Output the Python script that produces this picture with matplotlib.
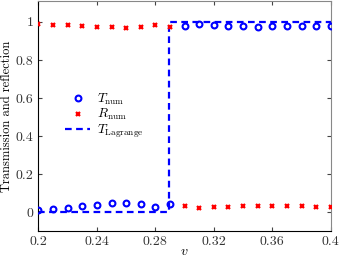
import numpy as np
import matplotlib
matplotlib.use('Agg')
import matplotlib.pyplot as plt

plt.rcParams['font.family'] = 'serif'
plt.rcParams['font.serif'] = ['cmr10', 'DejaVu Serif']
plt.rcParams['mathtext.fontset'] = 'cm'
plt.rcParams['axes.formatter.use_mathtext'] = True

# data
v = [0.20, 0.21, 0.22, 0.23, 0.24, 0.25, 0.26, 0.27, 0.28, 0.29, 0.30,
     0.31, 0.32, 0.33, 0.34, 0.35, 0.36, 0.37, 0.38, 0.39, 0.40]
T_num = [0.01, 0.015, 0.02, 0.03, 0.035, 0.045, 0.05, 0.04, 0.025, 0.04, 0.98,
         0.99, 0.985, 0.98, 0.978, 0.975, 0.978, 0.978, 0.978, 0.98, 0.98]
R_num = [0.99, 0.985, 0.983, 0.978, 0.975, 0.972, 0.97, 0.973, 0.982, 0.975, 0.03,
         0.02, 0.025, 0.028, 0.03, 0.03, 0.03, 0.03, 0.03, 0.028, 0.027]
v_lag = [0.20, 0.289, 0.289, 0.40]
T_lag = [0.0, 0.0, 1.0, 1.0]

xticks = [0.2, 0.24, 0.28, 0.32, 0.36, 0.4]
yticks = [0, 0.2, 0.4, 0.6, 0.8, 1]

fig = plt.figure(figsize=(3.4, 2.59), dpi=100)
ax = fig.add_axes([0.113, 0.108, 0.86, 0.888])

ax.plot(v, T_num, 'o', mfc='none', mec='b', mew=1.5, ms=4.2, label=r'$T_{\mathrm{num}}$', zorder=3)
ax.plot(v, R_num, 'x', color='r', mew=1.6, ms=3.0, label=r'$R_{\mathrm{num}}$', zorder=3)
ax.plot(v_lag, T_lag, '--', color='b', lw=1.6, dashes=(3, 2), label=r'$T_{\mathrm{Lagrange}}$')

ax.set_xlim(0.2, 0.4)
ax.set_ylim(-0.1, 1.11)
ax.set_xticks(xticks)
ax.set_xticklabels(['0.2', '0.24', '0.28', '0.32', '0.36', '0.4'])
ax.set_yticks(yticks)
ax.set_yticklabels(['0', '0.2', '0.4', '0.6', '0.8', '1'])
ax.tick_params(direction='in', top=True, right=True, labelsize=10, length=3, colors='#444444', labelcolor='#333333')
for s in ['top', 'right']:
    ax.spines[s].set_color('#888888')
ax.set_xlabel(r'$v$', fontsize=10)
ax.set_ylabel('Transmission and reflection', fontsize=9)
ax.xaxis.set_label_coords(0.5, -0.065)
ax.yaxis.set_label_coords(-0.088, 0.5)

ax.legend(loc='upper left', bbox_to_anchor=(0.06, 0.645), frameon=False, fontsize=9.5,
          handlelength=1.9, labelspacing=0.0, borderpad=0.2, handletextpad=0.5)

fig.savefig('out.png', dpi=100)
